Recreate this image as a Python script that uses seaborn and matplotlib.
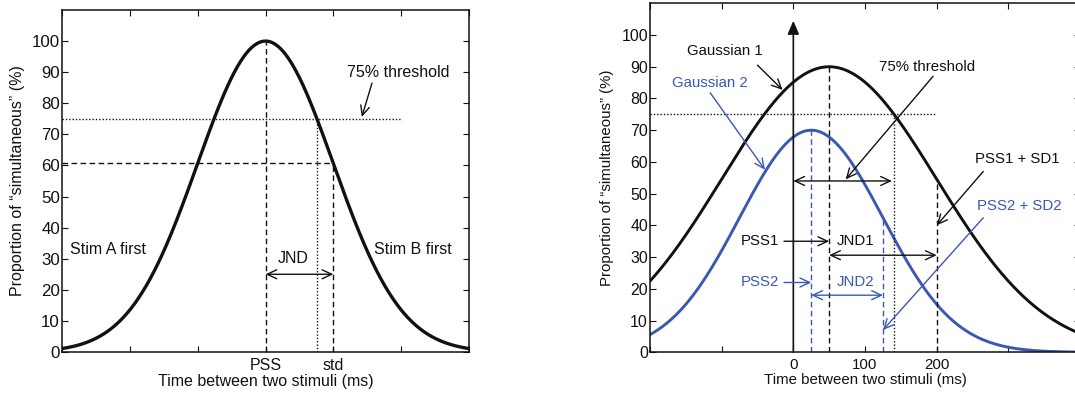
import numpy as np
import pandas as pd
import matplotlib
matplotlib.use("Agg")
import matplotlib.pyplot as plt
import seaborn as sns

sns.set_theme(style="ticks")
plt.rcParams['font.family'] = ['Liberation Sans', 'DejaVu Sans']
plt.rcParams['font.size'] = 11.5

# ---------------- data ----------------
# left panel: a single Gaussian in arbitrary time units
left_pss = 0.0
left_sd = 1.0
left_peak = 100.0
left_xlim = (-3, 3)
left_xticks = [-3, -2, -1, 0, 1, 2, 3]
left_xticklabels = ['', '', '', 'PSS', 'std', '', '']
threshold = 75.0

# right panel: two Gaussians (ms)
g_names = ['Gaussian 1', 'Gaussian 2']
g_pss = [50.0, 25.0]
g_sd = [150.0, 100.0]
g_peak = [90.0, 70.0]
right_xlim = (-200, 400)
right_xticks = [-200, -100, 0, 100, 200, 300, 400]
right_xticklabels = ['', '', '0', '100', '200', '', '']

yticks = list(range(0, 101, 10))
ylim = (0, 110)

BLACK = '#111111'
BLUE = '#3a58b4'
XLABEL = 'Time between two stimuli (ms)'
YLABEL = 'Proportion of \u201csimultaneous\u201d (%)'

FS_L, TFS_L = 11.5, 12.2   # left panel text / tick sizes
FS_R, TFS_R = 10.8, 11.4   # right panel text / tick sizes


def gauss(x, peak, mu, sd):
    return peak * np.exp(-0.5 * ((x - mu) / sd) ** 2)


def thr_x(peak, mu, sd, thr):
    return mu + sd * np.sqrt(2 * np.log(peak / thr))


fig = plt.figure(figsize=(10.75, 3.96), dpi=100)
axL = fig.add_axes([62 / 1075, 44 / 396, 407 / 1075, 342 / 396])
axR = fig.add_axes([650 / 1075, 43.7 / 396, 430 / 1075, 349 / 396])

for ax, tfs, fs in ((axL, TFS_L, FS_L), (axR, TFS_R, FS_R)):
    ax.tick_params(direction='in', top=True, right=True, length=4, width=0.8,
                   colors=BLACK)
    ax.tick_params(axis='x', labelsize=fs, pad=4)
    ax.tick_params(axis='y', labelsize=tfs, pad=1.5)
    for s in ax.spines.values():
        s.set_linewidth(1.1)
        s.set_color(BLACK)
    ax.set_ylim(*ylim)
    ax.set_yticks(yticks)

# ---------------- left panel ----------------
xl = np.linspace(left_xlim[0], left_xlim[1], 500)
dfL = pd.DataFrame({'x': xl, 'y': gauss(xl, left_peak, left_pss, left_sd)})
sns.lineplot(data=dfL, x='x', y='y', ax=axL, color=BLACK, linewidth=2.4)
axL.set_xlim(*left_xlim)
axL.set_xticks(left_xticks)
axL.set_xticklabels(left_xticklabels)
axL.set_xlabel(XLABEL, fontsize=FS_L, labelpad=1, color=BLACK)
axL.set_ylabel(YLABEL, fontsize=FS_L, labelpad=5, color=BLACK)

y_sd = gauss(left_pss + left_sd, left_peak, left_pss, left_sd)
x_thr = thr_x(left_peak, left_pss, left_sd, threshold)
dash = dict(color=BLACK, linewidth=1.0, linestyle=(0, (4, 2.5)))
dot = dict(color=BLACK, linewidth=1.0, linestyle=(0, (1, 1.4)))
axL.plot([left_pss, left_pss], [0, left_peak], **dash)
axL.plot([left_pss + left_sd] * 2, [0, y_sd], **dash)
axL.plot([left_xlim[0], left_pss + left_sd], [y_sd, y_sd], **dash)
axL.plot([left_xlim[0], 2.0], [threshold, threshold], **dot)
axL.plot([x_thr, x_thr], [0, threshold], **dot)

arr = dict(arrowstyle='->,head_length=0.6,head_width=0.28', color=BLACK, lw=1.0,
           shrinkA=0, shrinkB=0)
arr2 = dict(arrowstyle='<->,head_length=0.6,head_width=0.28', color=BLACK, lw=1.0,
            shrinkA=0, shrinkB=0)
axL.annotate('', xy=(left_pss + left_sd, 25), xytext=(left_pss, 25), arrowprops=arr2)
axL.text(0.41, 30, 'JND', ha='center', va='center', color=BLACK, fontsize=FS_L)
axL.text(-2.88, 33, 'Stim A first', ha='left', va='center', color=BLACK, fontsize=FS_L)
axL.text(2.74, 33, 'Stim B first', ha='right', va='center', color=BLACK, fontsize=FS_L)
axL.text(1.2, 90, '75% threshold', ha='left', va='center', color=BLACK, fontsize=FS_L)
axL.annotate('', xy=(1.42, 75.6), xytext=(1.57, 86.5), arrowprops=arr)

# ---------------- right panel ----------------
xr = np.linspace(right_xlim[0], right_xlim[1], 600)
rows = []
for name, pk, mu, sd in zip(g_names, g_peak, g_pss, g_sd):
    rows.append(pd.DataFrame({'x': xr, 'y': gauss(xr, pk, mu, sd), 'curve': name}))
dfR = pd.concat(rows, ignore_index=True)
sns.lineplot(data=dfR, x='x', y='y', hue='curve', ax=axR,
             palette={g_names[0]: BLACK, g_names[1]: BLUE}, linewidth=2.1,
             legend=False)
axR.set_xlim(*right_xlim)
axR.set_xticks(right_xticks)
axR.set_xticklabels(right_xticklabels)
axR.set_xlabel(XLABEL, fontsize=FS_R, labelpad=1, color=BLACK)
axR.set_ylabel(YLABEL, fontsize=FS_R, labelpad=5, color=BLACK)

# vertical axis arrow at 0
axR.annotate('', xy=(0, 104.5), xytext=(0, 0),
             arrowprops=dict(arrowstyle='-|>,head_length=0.7,head_width=0.3',
                             color=BLACK, lw=1.2, shrinkA=0, shrinkB=0))

# guide lines
g1_sd_y = gauss(g_pss[0] + g_sd[0], g_peak[0], g_pss[0], g_sd[0])
g2_sd_y = gauss(g_pss[1] + g_sd[1], g_peak[1], g_pss[1], g_sd[1])
g1_thr = thr_x(g_peak[0], g_pss[0], g_sd[0], threshold)
bdash = dict(color=BLUE, linewidth=1.0, linestyle=(0, (4, 2.5)))
axR.plot([g_pss[0]] * 2, [0, g_peak[0]], **dash)
axR.plot([g_pss[0] + g_sd[0]] * 2, [0, g1_sd_y], **dash)
axR.plot([g_pss[1]] * 2, [0, g_peak[1]], **bdash)
axR.plot([g_pss[1] + g_sd[1]] * 2, [0, g2_sd_y], **bdash)
axR.plot([right_xlim[0], 197], [threshold, threshold], **dot)
axR.plot([g1_thr, g1_thr], [0, threshold], **dot)

barr = dict(arrowstyle='->,head_length=0.6,head_width=0.28', color=BLUE, lw=1.0,
            shrinkA=0, shrinkB=0)
barr2 = dict(arrowstyle='<->,head_length=0.6,head_width=0.28', color=BLUE, lw=1.0,
             shrinkA=0, shrinkB=0)

# 75% threshold double arrow
axR.annotate('', xy=(g1_thr - 3, 54), xytext=(0, 54), arrowprops=arr2)
axR.text(119, 90, '75% threshold', ha='left', va='center', color=BLACK, fontsize=FS_R)
axR.annotate('', xy=(73, 54.5), xytext=(195, 87), arrowprops=arr)

# Gaussian labels
axR.text(-149, 95, 'Gaussian 1', ha='left', va='center', color=BLACK, fontsize=FS_R)
axR.annotate('', xy=(-15, 82.7), xytext=(-50, 90.5), arrowprops=arr)
axR.text(-169, 85, 'Gaussian 2', ha='left', va='center', color=BLUE, fontsize=FS_R)
axR.annotate('', xy=(-39.5, 57.5), xytext=(-116, 81.8), arrowprops=barr)

# PSS + SD labels
axR.text(253, 61, 'PSS1 + SD1', ha='left', va='center', color=BLACK, fontsize=FS_R)
axR.annotate('', xy=(200, 40), xytext=(265, 57), arrowprops=arr)
axR.text(256, 46, 'PSS2 + SD2', ha='left', va='center', color=BLUE, fontsize=FS_R)
axR.annotate('', xy=(125, 7), xytext=(265, 42.4), arrowprops=barr)

# PSS1 / JND1
axR.text(-20, 35, 'PSS1', ha='right', va='center', color=BLACK, fontsize=FS_R)
axR.annotate('', xy=(g_pss[0], 35), xytext=(-13, 35), arrowprops=arr)
axR.text(61, 35, 'JND1', ha='left', va='center', color=BLACK, fontsize=FS_R)
axR.annotate('', xy=(g_pss[0] + g_sd[0], 30.6), xytext=(g_pss[0], 30.6), arrowprops=arr2)

# PSS2 / JND2
axR.text(-20, 22, 'PSS2', ha='right', va='center', color=BLUE, fontsize=FS_R)
axR.annotate('', xy=(g_pss[1], 22), xytext=(-13, 22), arrowprops=barr)
axR.text(61, 22, 'JND2', ha='left', va='center', color=BLUE, fontsize=FS_R)
axR.annotate('', xy=(g_pss[1] + g_sd[1], 18), xytext=(g_pss[1], 18), arrowprops=barr2)

fig.savefig('out.png', dpi=100)
